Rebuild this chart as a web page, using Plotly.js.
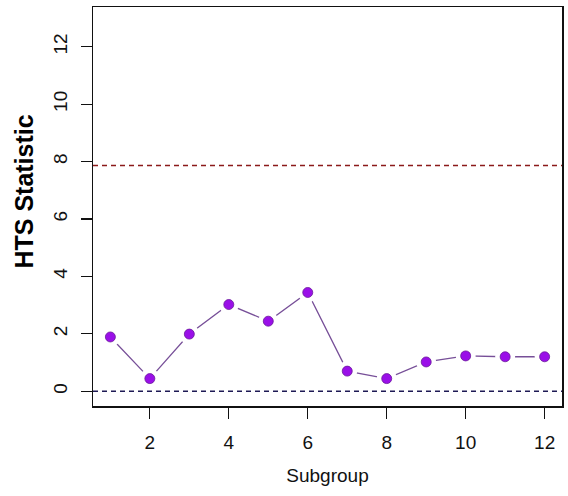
<!DOCTYPE html>
<html>
<head>
<meta charset="utf-8">
<script src="https://cdn.plot.ly/plotly-3.0.1.min.js"></script>
<style>html,body{margin:0;padding:0;background:#fff;}#chart{width:568px;height:496px;}</style>
</head>
<body>
<div id="chart"></div>
<script>
const subgroups = [1, 2, 3, 4, 5, 6, 7, 8, 9, 10, 11, 12];
const htsValues = [1.89, 0.44, 1.99, 3.02, 2.44, 3.44, 0.70, 0.44, 1.02, 1.23, 1.20, 1.20];
const upperLimit = 7.86;
const lowerLimit = 0;
const xTicks = [2, 4, 6, 8, 10, 12];
const yTicks = [0, 2, 4, 6, 8, 10, 12];

const xRange = [0.56, 12.44];
const yRange = [-0.515, 13.385];

const traces = [
  {x: subgroups, y: htsValues, mode: 'lines', line: {color: '#774f98', width: 1.3}, hoverinfo: 'skip'},
  {x: subgroups, y: htsValues, mode: 'markers', marker: {color: '#ffffff', size: 20, line: {width: 0}}, hoverinfo: 'skip'},
  {x: subgroups, y: htsValues, mode: 'markers', marker: {color: '#9a0fe8', size: 10, line: {color: '#6a1a9a', width: 0.8}}},
  {x: xRange, y: [upperLimit, upperLimit], mode: 'lines', line: {color: '#8b1a1a', width: 1.5, dash: '5px,4px'}, hoverinfo: 'skip'},
  {x: xRange, y: [lowerLimit, lowerLimit], mode: 'lines', line: {color: '#1e1a55', width: 1.5, dash: '5px,4px'}, hoverinfo: 'skip'}
];

const layout = {
  width: 568, height: 496,
  margin: {l: 93, r: 6, t: 7, b: 90},
  showlegend: false,
  paper_bgcolor: '#fff', plot_bgcolor: '#fff',
  font: {family: 'Liberation Sans, Arial, sans-serif', color: '#111', size: 19},
  xaxis: {
    range: xRange, tickvals: xTicks, ticktext: xTicks.map(String),
    showgrid: false, zeroline: false, showline: true, mirror: true,
    linecolor: '#111', linewidth: 1.5,
    ticks: 'outside', ticklen: 11, tickwidth: 1.2, tickcolor: '#111',
    ticklabelstandoff: 8,
    tickfont: {size: 19},
    title: {text: 'Subgroup', font: {size: 19}, standoff: 16}
  },
  yaxis: {
    range: yRange, tickvals: yTicks, ticktext: yTicks.map(String),
    showgrid: false, zeroline: false, showline: true, mirror: true,
    linecolor: '#111', linewidth: 1.5,
    ticks: 'outside', ticklen: 11, tickwidth: 1.2, tickcolor: '#111',
    tickangle: -90, ticklabelstandoff: 6,
    tickfont: {size: 19}
  },
  annotations: [{
    text: '<b>HTS Statistic</b>', textangle: -90,
    xref: 'paper', yref: 'paper', x: -0.147, y: 0.5376,
    xanchor: 'center', yanchor: 'middle', showarrow: false,
    font: {size: 25, color: '#000', family: 'Liberation Sans, Arial, sans-serif'}
  }]
};

Plotly.newPlot('chart', traces, layout, {displayModeBar: false, staticPlot: true});
</script>
</body>
</html>
